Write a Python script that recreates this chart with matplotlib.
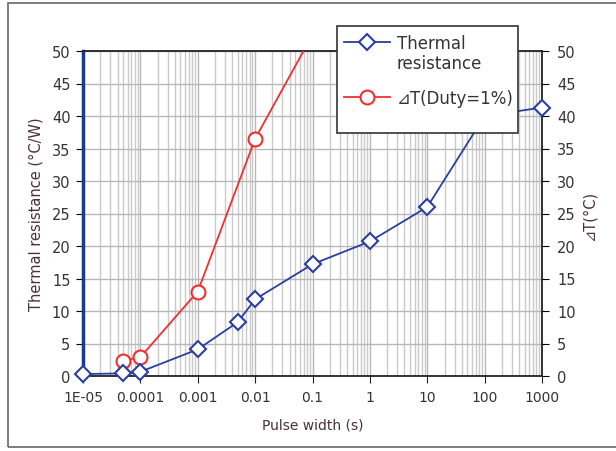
import matplotlib
matplotlib.use("Agg")
import matplotlib.pyplot as plt
from matplotlib.patches import Rectangle
from matplotlib.lines import Line2D
from matplotlib.ticker import LogLocator, FixedLocator, NullFormatter

# Data
pulse_rth = [1e-5, 5e-5, 1e-4, 1e-3, 5e-3, 1e-2, 1e-1, 1, 10, 100, 1000]
rth = [0.3, 0.4, 0.65, 4.1, 8.3, 11.8, 17.2, 20.7, 26.0, 40.0, 41.3]
pulse_dt = [5e-5, 1e-4, 1e-3, 1e-2, 1e-1]
dt = [2.35, 2.9, 13.0, 36.5, 52.5]
xtick_vals = [1e-5, 1e-4, 1e-3, 1e-2, 1e-1, 1, 10, 100, 1000]
xtick_labels = ["1E-05", "0.0001", "0.001", "0.01", "0.1", "1", "10", "100", "1000"]
ytick_vals = [0, 5, 10, 15, 20, 25, 30, 35, 40, 45, 50]
legend_labels = ["Thermal\nresistance", "\u22bfT(Duty=1%)"]

W, H = 616, 452
plt.rcParams['font.family'] = ['DejaVu Sans']
fig = plt.figure(figsize=(W/100, H/100), dpi=100)
ax = fig.add_axes([83/W, 1-377/H, (542-83)/W, (377-52)/H])

blue = '#2a3fa0'
red = '#f03030'
lab = '#4a3232'
tickc = '#333333'

ax.set_xscale('log')
ax.set_xlim(1e-5, 1000)
ax.set_ylim(0, 50)

ax.set_xticks(xtick_vals)
ax.set_xticklabels(xtick_labels)
ax.xaxis.set_minor_locator(LogLocator(base=10, subs=range(2, 10), numticks=100))
ax.xaxis.set_minor_formatter(NullFormatter())
ax.set_yticks(ytick_vals)

ax.grid(True, which='major', axis='both', color='#b8b8b8', lw=1.0)
ax.grid(True, which='minor', axis='x', color='#cacaca', lw=1.0)
ax.set_axisbelow(True)

ax.plot(pulse_dt, dt, color=red, lw=1.3, marker='o', ms=10, mfc='white',
        mec=red, mew=1.5, zorder=3)
ax.plot(pulse_rth, rth, color=blue, lw=1.3, marker='D', ms=8, mfc='white',
        mec=blue, mew=1.5, zorder=4, clip_on=False)

ax.tick_params(axis='x', which='major', direction='out', length=5, color='#222222',
               labelsize=10, labelcolor=tickc, pad=5)
ax.tick_params(axis='x', which='minor', length=0)
ax.tick_params(axis='y', direction='out', length=5, labelsize=10.5, labelcolor=tickc, pad=4)

for s in ['top', 'right', 'bottom']:
    ax.spines[s].set_color('#222222')
    ax.spines[s].set_linewidth(1.3)
ax.spines['left'].set_color('#1a3a8a')
ax.spines['left'].set_linewidth(2.5)

ax2 = ax.twinx()
ax2.set_ylim(0, 50)
ax2.set_yticks(ytick_vals)
ax2.tick_params(axis='y', direction='out', length=5, labelsize=10.5, labelcolor=tickc, pad=6)
for s in ax2.spines.values():
    s.set_visible(False)

ax.set_xlabel('Pulse width (s)', fontsize=10, color=lab, labelpad=10)
ax.set_ylabel('Thermal resistance (\u00b0C/W)', fontsize=10.5, color=lab, labelpad=6)
ax2.set_ylabel('\u22bfT(\u00b0C)', fontsize=10.5, color=lab, labelpad=4)

# Legend box (drawn manually to match the reference layout)
fx = lambda px: px / W
fy = lambda py: 1 - py / H
fig.patches.append(Rectangle((fx(337), fy(134)), fx(518) - fx(337), fy(27) - fy(134),
                             transform=fig.transFigure, facecolor='white',
                             edgecolor='#333333', lw=1.2, zorder=5))
for (col, mk, ms, yy, label) in [(blue, 'D', 8, 43, legend_labels[0]),
                                 (red, 'o', 10, 98, legend_labels[1])]:
    fig.lines.append(Line2D([fx(344), fx(390)], [fy(yy), fy(yy)], transform=fig.transFigure,
                            color=col, lw=1.3, zorder=6))
    fig.lines.append(Line2D([fx(367)], [fy(yy)], transform=fig.transFigure, color=col,
                            marker=mk, ms=ms, mfc='white', mec=col, mew=1.5, zorder=7))
    fig.text(fx(397), fy(yy - 8), label, fontsize=12, color='#333333', va='top', ha='left',
             linespacing=1.15, zorder=7)

fig.patches.append(Rectangle((8/W, 4/H), 1.0, 1-8/H, transform=fig.transFigure,
                             fill=False, edgecolor='#666666', lw=1.2))

fig.savefig('out.png', dpi=100)
